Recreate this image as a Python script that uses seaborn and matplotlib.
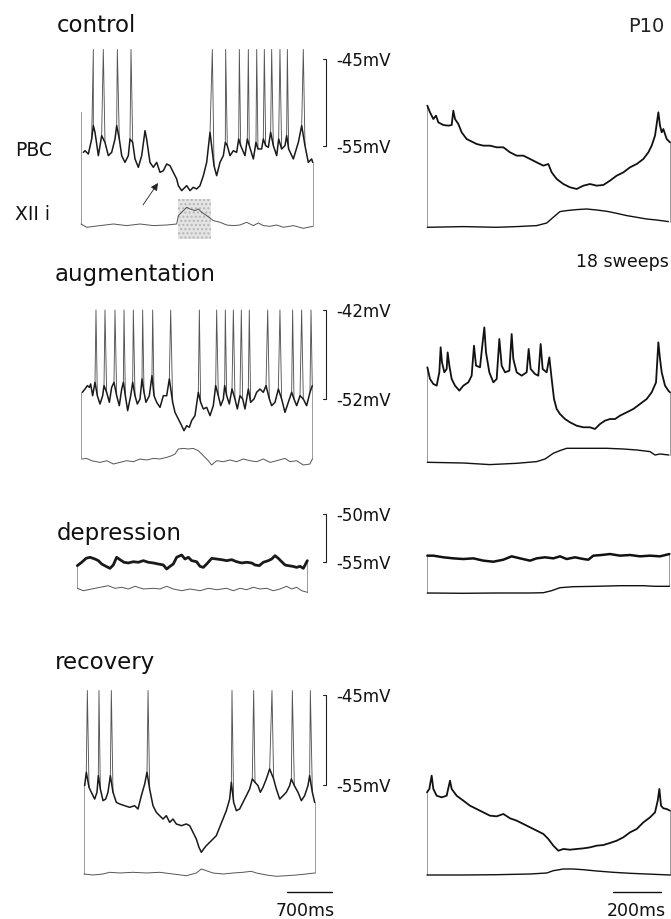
import numpy as np
import pandas as pd
import matplotlib
matplotlib.use("Agg")
import matplotlib.pyplot as plt
import seaborn as sns
from matplotlib.patches import Rectangle

sns.set_theme(style="white")
plt.rcParams['font.family'] = ['DejaVu Sans']

# ---------------- DATA (time in ms, membrane potential in mV, XII in a.u.) ----------------
# control, left (long sweep)
ctrl_L_t = [36, 62, 114, 166, 192, 218, 270, 296, 321, 373, 425, 477, 529, 555, 596, 633, 684, 736, 762,
            804, 840, 892, 944, 996, 1021, 1073, 1125, 1177, 1229, 1281, 1333, 1384, 1436, 1488, 1514, 1566,
            1644, 1696, 1747, 1799, 1851, 1903, 1955, 2007, 2069, 2110, 2162, 2214, 2245, 2276, 2318, 2370,
            2421, 2453, 2484, 2551, 2587, 2618, 2681, 2722, 2753, 2810, 2836, 2873, 2914, 2950, 2992, 3044,
            3075, 3121, 3173, 3199, 3230, 3303, 3381, 3433, 3484, 3536, 3588, 3604]
ctrl_L_mv = [-55.73, -55.54, -55.92, -54.20, -52.66, -53.43, -56.11, -54.96, -53.81, -54.58, -56.11, -55.73,
             -54.20, -52.66, -54.20, -56.11, -56.88, -56.11, -54.20, -54.58, -56.49, -57.45, -56.11, -53.24,
             -54.20, -56.88, -57.45, -56.88, -58.03, -57.84, -57.07, -57.26, -58.03, -58.79, -59.56, -60.13,
             -59.56, -60.13, -59.75, -59.94, -59.56, -58.41, -56.88, -53.43, -57.26, -58.41, -56.88, -56.11,
             -54.58, -54.96, -56.11, -55.54, -55.73, -54.20, -54.96, -56.11, -54.20, -54.96, -56.49, -54.58,
             -55.34, -55.34, -54.20, -54.96, -55.15, -53.43, -54.96, -56.11, -54.20, -55.34, -54.96, -53.81,
             -55.34, -56.49, -54.58, -52.66, -54.96, -56.88, -56.49, -56.88]
ctrl_L_spikes = [192, 347, 565, 778, 2043, 2250, 2463, 2603, 2733, 2852, 2966, 3095, 3210, 3458]
ctrl_L_xii_t = [0, 88, 296, 503, 710, 918, 1125, 1333, 1488, 1514, 1566, 1644, 1696, 1773, 1825, 1877, 1955,
                2058, 2162, 2266, 2370, 2473, 2577, 2681, 2758, 2836, 2940, 3044, 3147, 3303, 3458, 3604]
ctrl_L_xii = [2.3, -1, 0.7, 2.3, 0.7, 2.3, 0.7, 1.3, 2.3, 10.7, 14, 19, 17.3, 15.7, 17.3, 14, 10.7, 5.7, 4,
              1.3, 0.7, 1.3, 4, 0.7, 3.3, 0.7, 0, 1.3, -1, 0.7, -2, 0]
ctrl_window = [1509, 2022]

# control, right (average of 18 sweeps)
ctrl_R_t = [1.4, 12.5, 26.4, 37.5, 47.2, 68.1, 88.9, 102.8, 109.7, 116.7, 130.6, 144.4, 165.3, 179.2, 193.1,
            206.9, 234.7, 262.5, 290.3, 318.1, 345.9, 373.7, 401.5, 429.2, 457.0, 484.8, 505.6, 519.5, 540.3,
            568.1, 595.9, 623.7, 651.5, 679.2, 707.0, 734.8, 762.6, 790.4, 818.2, 846.0, 873.8, 901.6, 922.3,
            936.2, 950.1, 964.0, 970.9, 977.9, 984.8, 998.7, 1012.6]
ctrl_R_mv = [-50.36, -51.13, -51.90, -51.51, -52.28, -52.59, -52.66, -52.59, -50.94, -51.90, -52.47, -53.43,
             -54.20, -54.39, -54.58, -54.77, -54.96, -54.96, -55.15, -55.15, -55.73, -56.11, -56.11, -56.49,
             -56.88, -57.26, -57.07, -58.03, -58.79, -59.37, -59.75, -59.94, -59.56, -59.37, -59.56, -59.48,
             -58.98, -58.41, -58.03, -57.45, -57.07, -56.49, -55.73, -54.96, -53.81, -51.13, -52.66, -53.43,
             -53.05, -54.20, -54.58]
ctrl_R_xii_t = [1.4, 151, 290, 374, 457, 499, 526, 554, 582, 624, 665, 707, 749, 790, 832, 874, 915, 957, 1006]
ctrl_R_xii = [0, 0.7, 0, 0.7, 1.7, 4.3, 10, 15.7, 16.7, 17.7, 18.3, 17.3, 16, 14, 11.7, 10, 8.3, 7.3, 5.7]

# augmentation, left
aug_L_t = [21, 62, 99, 130, 150, 181, 218, 254, 296, 337, 358, 399, 441, 477, 513, 555, 596, 633, 659, 690,
           726, 773, 804, 840, 876, 918, 949, 980, 1011, 1063, 1104, 1136, 1177, 1229, 1281, 1333, 1374, 1426,
           1462, 1514, 1566, 1602, 1644, 1685, 1721, 1773, 1825, 1861, 1903, 1955, 2007, 2058, 2095, 2136,
           2173, 2214, 2235, 2266, 2307, 2349, 2395, 2432, 2473, 2515, 2551, 2603, 2639, 2691, 2732, 2784,
           2836, 2878, 2930, 2966, 3018, 3070, 3121, 3173, 3225, 3277, 3313, 3355, 3407, 3458, 3510, 3562, 3598]
aug_L_mv = [-51.25, -50.88, -50.50, -50.69, -50.31, -51.63, -50.13, -51.63, -52.56, -51.63, -50.50, -51.25,
            -52.37, -50.69, -50.13, -51.63, -52.75, -50.88, -50.13, -51.63, -53.31, -51.63, -50.13, -51.63,
            -52.56, -52.00, -49.75, -51.25, -52.37, -51.63, -49.38, -51.63, -52.37, -52.94, -51.63, -51.63,
            -49.75, -52.37, -53.50, -54.25, -55.00, -55.56, -55.00, -55.18, -54.43, -53.87, -51.25, -52.37,
            -53.12, -52.94, -53.87, -52.75, -50.50, -51.63, -52.75, -52.00, -50.50, -51.63, -52.56, -50.88,
            -52.00, -53.12, -51.63, -52.00, -53.12, -50.88, -52.37, -52.00, -51.25, -50.88, -51.25, -50.50,
            -52.00, -52.75, -52.37, -50.88, -52.00, -53.50, -52.37, -51.25, -52.00, -52.75, -51.63, -52.00,
            -52.75, -51.25, -50.50]
aug_L_spikes = [233, 373, 529, 669, 814, 959, 1115, 1395, 1841, 2110, 2245, 2370, 2494, 2618, 2904, 3095,
                3292, 3432, 3578]
aug_L_xii_t = [21, 88, 166, 296, 399, 503, 607, 710, 814, 918, 1021, 1125, 1229, 1333, 1410, 1462, 1514, 1592,
               1670, 1747, 1825, 1903, 1980, 2032, 2110, 2214, 2318, 2421, 2525, 2628, 2732, 2836, 2940, 3044,
               3173, 3251, 3355, 3458, 3562, 3598]
aug_L_xii = [1.7, 2.3, 0, -1.7, 0, -3.3, -1.7, 0, -1, 1.7, 0.7, 2.3, 1.7, 3.3, 5, 6.7, 11.7, 12.3, 11.7, 12.3,
             10, 5, 0, -4.3, 0, -1, 0.7, -1, 1.7, 0, -1, 1.7, -1.7, 0, 2.3, -1, 0, -4.3, -3.3, 1.7]

# augmentation, right
aug_R_t = [1.4, 12.5, 26.4, 40.3, 51.4, 56.9, 62.5, 72.2, 81.9, 86.1, 93.1, 102.8, 116.7, 134.7, 151.4, 172.2,
           186.1, 195.8, 204.2, 220.8, 231.9, 238.9, 245.8, 259.7, 276.4, 290.3, 301.4, 311.1, 325.0, 343.1,
           352.8, 359.7, 373.6, 394.4, 415.3, 423.6, 431.9, 450.0, 463.9, 473.6, 481.9, 498.6, 509.7, 519.5,
           529.2, 540.3, 554.2, 575.0, 595.9, 623.7, 651.5, 679.2, 700.0, 720.9, 741.7, 762.6, 783.4, 804.2,
           832.0, 859.8, 887.6, 915.4, 936.2, 954.3, 964.0, 970.9, 977.9, 991.7, 1005.6, 1012.6]
aug_R_mv = [-48.44, -49.75, -50.31, -50.50, -49.00, -46.19, -47.88, -49.00, -48.63, -46.76, -48.25, -49.75,
            -50.50, -51.06, -50.50, -50.13, -49.38, -46.01, -48.25, -48.44, -45.63, -43.95, -46.76, -49.00,
            -50.13, -49.75, -45.26, -48.25, -49.00, -48.82, -44.70, -47.51, -49.00, -49.38, -49.00, -46.38,
            -48.63, -49.19, -49.38, -45.82, -48.63, -49.00, -47.32, -49.75, -52.00, -53.12, -53.69, -54.25,
            -54.62, -55.00, -55.18, -55.18, -55.37, -54.81, -54.43, -54.25, -54.25, -53.87, -53.50, -53.12,
            -52.56, -52.00, -51.25, -50.13, -45.63, -47.51, -49.00, -50.50, -51.06, -51.25]
aug_R_xii_t = [1.4, 151, 262, 374, 457, 492, 526, 554, 582, 651, 749, 818, 874, 929, 950, 971, 1008]
aug_R_xii = [0, -0.7, -2.3, -1, 0.7, 3.3, 9, 11.7, 14, 14, 14, 13.3, 12.3, 10.7, 7.3, 8.3, 7.3]

# depression, left
dep_L_t = [5, 73, 140, 202, 280, 332, 384, 451, 513, 565, 617, 669, 731, 798, 876, 954, 1032, 1110, 1187,
           1265, 1343, 1395, 1447, 1498, 1550, 1628, 1680, 1732, 1784, 1861, 1913, 1965, 2017, 2095, 2173,
           2250, 2328, 2406, 2484, 2562, 2639, 2717, 2769, 2836, 2898, 2976, 3028, 3080, 3132, 3184, 3236,
           3287, 3355, 3417, 3469, 3521, 3583]
dep_L_mv = [-55.38, -55.03, -54.62, -54.51, -54.69, -54.86, -55.21, -55.45, -55.66, -55.31, -54.51, -54.76,
            -55.03, -55.10, -54.97, -55.03, -54.86, -55.03, -55.10, -55.21, -55.31, -55.73, -55.45, -55.21,
            -54.51, -54.27, -54.69, -54.51, -54.86, -54.97, -55.45, -55.56, -55.21, -54.62, -54.69, -54.76,
            -54.86, -54.76, -54.97, -55.10, -55.03, -55.10, -55.31, -55.38, -55.03, -54.86, -54.69, -54.34,
            -54.62, -54.97, -55.31, -55.38, -55.45, -55.56, -55.45, -55.66, -54.86]
dep_L_xii_t = [5, 98, 228, 358, 488, 591, 695, 798, 902, 1032, 1187, 1291, 1395, 1498, 1628, 1758, 1913, 2043,
               2173, 2328, 2432, 2536, 2639, 2743, 2847, 2950, 3054, 3158, 3261, 3339, 3417, 3495, 3583]
dep_L_xii = [0.7, -1.7, 0, 1.7, 3.3, 0.7, 1.7, 0, 2.7, 0, 0.7, 0, 2.7, 0, -1.7, 0, -1.7, 0.7, -0.7, 0.7, -1.7,
             0.7, -0.7, 1.7, 0, 0.7, -1.7, 0, 2.7, 0, 1.7, -1.7, -3.3]

# depression, right
dep_R_t = [1.4, 26.4, 68.1, 109.7, 151.4, 193.1, 234.7, 276.4, 318.1, 352.8, 387.5, 429.2, 457.0, 491.7,
           526.4, 554.2, 582.0, 616.7, 651.5, 672.3, 693.1, 727.8, 762.6, 804.2, 845.9, 887.6, 929.2, 970.9,
           1009.8]
dep_R_mv = [-54.34, -54.34, -54.51, -54.62, -54.69, -54.62, -54.86, -54.97, -54.76, -54.41, -54.62, -54.86,
            -54.62, -54.51, -54.62, -54.41, -54.69, -54.51, -54.69, -54.76, -54.34, -54.27, -54.17, -54.34,
            -54.27, -54.41, -54.34, -54.41, -54.17]
dep_R_xii_t = [1.4, 151, 290, 429, 485, 519, 554, 610, 707, 804, 901, 950, 1010]
dep_R_xii = [0, -0.3, 0, 0, 0.3, 2.3, 5.3, 6.3, 6.7, 7.3, 7.3, 6.7, 6.7]

# recovery, left
rec_L_t = [10, 36, 78, 114, 166, 202, 223, 254, 296, 337, 373, 410, 451, 503, 555, 633, 710, 788, 840, 892,
           944, 980, 1021, 1073, 1125, 1177, 1229, 1281, 1333, 1384, 1436, 1514, 1592, 1644, 1696, 1747, 1789,
           1825, 1861, 1903, 1955, 2007, 2058, 2110, 2162, 2214, 2266, 2292, 2328, 2370, 2421, 2473, 2525,
           2577, 2618, 2660, 2707, 2743, 2784, 2836, 2888, 2950, 2992, 3044, 3096, 3147, 3199, 3225, 3272,
           3329, 3381, 3432, 3484, 3510, 3552, 3588]
rec_L_mv = [-55.07, -53.59, -55.26, -55.81, -56.56, -55.81, -53.96, -55.44, -56.74, -56.56, -55.81, -53.96,
            -55.81, -56.93, -57.11, -57.30, -57.48, -57.30, -57.67, -56.19, -54.89, -53.59, -55.44, -57.30,
            -58.04, -58.41, -58.78, -58.41, -59.15, -58.78, -59.33, -59.52, -59.33, -59.52, -60.26, -61.00,
            -61.93, -62.48, -62.11, -61.74, -61.37, -61.00, -60.63, -59.70, -58.78, -57.85, -56.56, -54.70,
            -56.93, -57.85, -57.67, -56.93, -56.19, -55.44, -54.33, -54.70, -55.07, -55.81, -55.26, -54.33,
            -53.22, -54.33, -55.44, -56.56, -56.19, -55.81, -55.07, -54.33, -55.07, -55.81, -56.74, -56.19,
            -55.07, -53.96, -55.81, -56.93]
rec_L_spikes = [52, 233, 425, 996, 2302, 2639, 2924, 3241, 3521]
rec_L_xii_t = [0, 140, 296, 399, 555, 762, 970, 1177, 1384, 1592, 1747, 1825, 1903, 2007, 2162, 2318, 2473,
               2603, 2681, 2836, 2992, 3147, 3303, 3458, 3588]
rec_L_xii = [0, -1, 0, 1.7, 1, 1.7, 1, 1.7, 0, -1.7, 1, 5, 3.3, 1, 0, 1, 1.7, 2.7, 1, -1, -2.3, -1.7, -1, 0, 1]

# recovery, right
rec_R_t = [0, 9.7, 19.4, 26.4, 40.3, 61.1, 81.9, 95.8, 102.8, 123.6, 151.4, 179.2, 207.0, 234.7, 262.5,
           290.3, 318.1, 345.9, 373.6, 401.4, 429.2, 457.0, 484.8, 505.6, 526.4, 547.3, 568.1, 595.9, 623.7,
           651.5, 679.2, 707.0, 734.8, 762.6, 790.4, 818.2, 846.0, 873.8, 901.6, 929.4, 950.1, 961.3, 968.2,
           975.1, 984.8, 998.7, 1012.6]
rec_R_mv = [-55.81, -55.44, -53.96, -55.44, -56.19, -56.37, -56.19, -54.52, -55.44, -56.19, -56.74, -57.30,
            -57.67, -58.04, -58.41, -58.48, -58.22, -58.70, -58.96, -59.33, -59.70, -60.07, -60.44, -61.00,
            -61.74, -62.30, -62.11, -62.19, -62.11, -62.04, -61.93, -61.74, -61.67, -61.44, -61.19, -60.81,
            -60.26, -59.89, -59.15, -58.59, -58.04, -56.74, -55.44, -57.30, -57.59, -57.67, -57.85]
rec_R_xii_t = [0, 151, 290, 429, 499, 526, 568, 610, 651, 707, 776, 846, 915, 1013]
rec_R_xii = [0, 0, 0.3, 1, 2, 4.3, 6, 6, 5.3, 4, 2.7, 1.7, 1, 0]

# labels
row_labels = ["control", "augmentation", "depression", "recovery"]
scale_labels = [("-45mV", "-55mV"), ("-42mV", "-52mV"), ("-50mV", "-55mV"), ("-45mV", "-55mV")]
spike_tops = [-43.9, -42.0, None, -44.5]

# ---------------- LAYOUT / DRAWING ----------------
W, H = 671, 920
fig = plt.figure(figsize=(W / 100, H / 100), dpi=100)
fig.patch.set_facecolor("white")

MS_L = 700 / 45.0   # ms per px (left sweeps)
MS_R = 200 / 48.0   # ms per px (right averages)

# per-row: (reference mV, px of that mV, px per mV)
rows = [(-55, 147, 8.7), (-52, 400, 8.9), (-55, 563, 9.6), (-55, 786, 9.0)]


def v_of_y(y, row):
    vref, yref, ppm = row
    return vref + (yref - y) / ppm


def panel(x0, x1, msppx, row, xii_base, t, mv, xt, xv, spikes=None, spike_top=None,
          lw=1.1, color="#1a1a1a", xii_lw=0.7, xii_color="#555", edge_top=None, edge_color="#8a8a8a"):
    vref, yref, ppm = row
    ytop = yref - 15 * ppm
    ybot = xii_base + 14
    ax = fig.add_axes([x0 / W, 1 - ybot / H, (x1 - x0) / W, (ybot - ytop) / H])
    ax.set_xlim(0, (x1 - x0) * msppx)
    ax.set_ylim(v_of_y(ybot, row), v_of_y(ytop, row))
    ax.axis("off")
    ax.patch.set_alpha(0)
    vbase = v_of_y(xii_base, row)
    t = np.asarray(t, float)
    mv = np.asarray(mv, float)
    xii_mv = vbase + np.asarray(xv, float) / ppm
    # sweep edges
    top0 = mv[0] if edge_top is None else max(mv[0], edge_top)
    ax.plot([0, 0], [top0, xii_mv[0]], color=edge_color, lw=0.6, clip_on=False, zorder=1)
    ax.plot([t[-1], t[-1]], [mv[-1], xii_mv[-1]], color=edge_color, lw=0.6, clip_on=False, zorder=1)
    df = pd.DataFrame({"t": t, "mv": mv})
    sns.lineplot(data=df, x="t", y="mv", ax=ax, sort=False, estimator=None, color=color, lw=lw,
                 legend=False, zorder=3)
    dx = pd.DataFrame({"t": np.asarray(xt, float), "v": xii_mv})
    sns.lineplot(data=dx, x="t", y="v", ax=ax, sort=False, estimator=None, color=xii_color, lw=xii_lw,
                 legend=False, zorder=3)
    if spikes is not None:
        for ts in spikes:
            i = int(np.searchsorted(t, ts))
            i = min(max(i, 1), len(t) - 1)
            ax.plot([t[i - 1], ts, t[i]], [mv[i - 1], spike_top, mv[i]], color="#555", lw=0.65,
                    clip_on=False, zorder=2)
    for a in ax.lines:
        a.set_clip_on(False)
    return ax


# row 1: control
axc = panel(81, 313, MS_L, rows[0], 227.3, ctrl_L_t, ctrl_L_mv, ctrl_L_xii_t, ctrl_L_xii,
            spikes=ctrl_L_spikes, spike_top=spike_tops[0], edge_top=-51.1)
y_box_top, y_box_bot = v_of_y(200, rows[0]), v_of_y(240, rows[0])
axc.add_patch(Rectangle((ctrl_window[0], y_box_bot), ctrl_window[1] - ctrl_window[0], y_box_top - y_box_bot,
                        facecolor="#e4e4e4", edgecolor="#b5b5b5", hatch="....", lw=0.0, zorder=0,
                        clip_on=False))
panel(427, 670, MS_R, rows[0], 228.3, ctrl_R_t, ctrl_R_mv, ctrl_R_xii_t, ctrl_R_xii,
      lw=1.3, color="#111", xii_lw=1.0, xii_color="#111")

# row 2: augmentation
panel(81, 313, MS_L, rows[1], 461.7, aug_L_t, aug_L_mv, aug_L_xii_t, aug_L_xii,
      spikes=aug_L_spikes, spike_top=spike_tops[1])
panel(427, 670, MS_R, rows[1], 463.3, aug_R_t, aug_R_mv, aug_R_xii_t, aug_R_xii,
      lw=1.3, color="#111", xii_lw=1.0, xii_color="#111")

# row 3: depression
panel(77, 307, MS_L, rows[2], 590, dep_L_t, dep_L_mv, dep_L_xii_t, dep_L_xii, lw=2.0)
panel(427, 670, MS_R, rows[2], 594, dep_R_t, dep_R_mv, dep_R_xii_t, dep_R_xii,
      lw=1.8, color="#111", xii_lw=1.0, xii_color="#111")

# row 4: recovery
panel(84, 315, MS_L, rows[3], 875, rec_L_t, rec_L_mv, rec_L_xii_t, rec_L_xii,
      spikes=rec_L_spikes, spike_top=spike_tops[3])
panel(427, 670, MS_R, rows[3], 876, rec_R_t, rec_R_mv, rec_R_xii_t, rec_R_xii,
      lw=1.3, color="#111", xii_lw=1.0, xii_color="#111")

# overlay in pixel coordinates for annotations
ov = fig.add_axes([0, 0, 1, 1])
ov.set_xlim(0, W)
ov.set_ylim(H, 0)
ov.axis("off")
ov.patch.set_alpha(0)

# vertical mV scale bars + labels
bar_spans = [(10, rows[0]), (10, rows[1]), (5, rows[2]), (10, rows[3])]
for (span, row), (top_lab, bot_lab) in zip(bar_spans, scale_labels):
    vref, yref, ppm = row
    yt = yref - span * ppm
    ov.plot([326, 326], [yt, yref], color="#222", lw=0.8)
    ov.plot([323, 326], [yt, yt], color="#222", lw=0.8)
    ov.plot([323, 326], [yref, yref], color="#222", lw=0.8)
    ov.text(336, yt + 1, top_lab, fontsize=12, va="center", ha="left", color="#111")
    ov.text(336, yref + 1, bot_lab, fontsize=12, va="center", ha="left", color="#111")

# row titles
title_pos = [(57, 32), (55, 281), (57, 540), (55, 669)]
for lab, (x, y) in zip(row_labels, title_pos):
    ov.text(x, y, lab, fontsize=16.5, ha="left", va="baseline", color="#111")

ov.text(15, 150, "PBC", fontsize=13.5, ha="left", va="center", color="#111")
ov.text(15, 214, "XII i", fontsize=13.5, ha="left", va="center", color="#111")
ov.text(664, 27, "P10", fontsize=14, ha="right", va="center", color="#222")
ov.text(669, 262, "18 sweeps", fontsize=12.5, ha="right", va="center", color="#111")

# arrow
ov.annotate("", xy=(158, 184), xytext=(143, 206),
            arrowprops=dict(arrowstyle="-|>", lw=0.6, color="#222", mutation_scale=11,
                            shrinkA=0, shrinkB=0))

# time scale bars
ov.plot([287, 332], [893, 893], color="#111", lw=1.0)
ov.text(305, 911, "700ms", fontsize=12.5, ha="center", va="center", color="#111")
ov.plot([613, 661], [893, 893], color="#111", lw=1.0)
ov.text(636, 911, "200ms", fontsize=12.5, ha="center", va="center", color="#111")

fig.savefig("out.png", dpi=100, facecolor="white")
